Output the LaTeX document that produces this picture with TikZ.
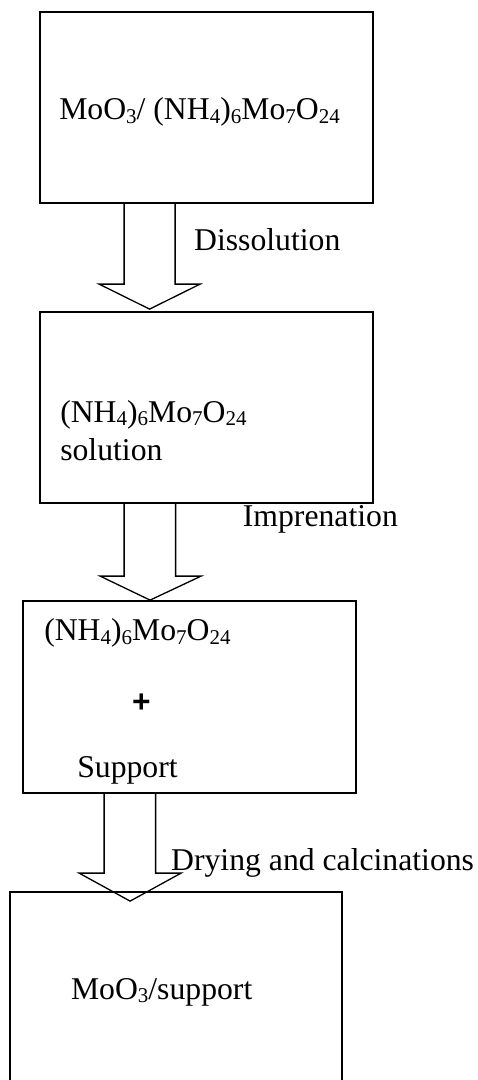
\documentclass[tikz,border=0pt]{standalone}
\usepackage{fontspec}
\setmainfont{Liberation Serif}
\newfontfamily\plusfont{Liberation Sans}
\usepackage{tikz}
\usetikzlibrary{calc, positioning}
\newcommand{\ix}[1]{\raisebox{-3.5pt}{\fontsize{21}{21}\selectfont #1}}

\begin{document}
\begin{tikzpicture}[x=1pt, y=-1pt, font=\fontsize{31.7}{38}\selectfont,
    stage/.style={draw, line width=1.8pt, minimum width=333pt, minimum height=191pt, inner sep=0pt},
    lbl/.style={anchor=base west, inner sep=0pt},
    blockarrow/.style={draw, line width=1.3pt, line join=miter}]
    \clip (0,0) rectangle (478,1080);

    \node[stage] (raw) at (206.5,107.5) {};
    \node[stage] (sol) at (206.5,407.5) {};
    \node[stage, minimum height=192pt] (mix) at (189.5,697) {};
    \node[stage, minimum width=332pt] (final) at (176,987.5) {};

    \node[lbl] (rawtxt) at ($(raw.north west)+(20,108.7)$) {MoO\ix{3}/ (NH\ix{4})\ix{6}Mo\ix{7}O\ix{24}};
    \node[lbl] (soltxt) at ($(sol.north west)+(21,111)$) {(NH\ix{4})\ix{6}Mo\ix{7}O\ix{24}};
    \node[lbl] (solword) at ($(soltxt.base west)+(0,38.7)$) {solution};
    \node[lbl] (mixtxt) at ($(mix.north west)+(22,40.7)$) {(NH\ix{4})\ix{6}Mo\ix{7}O\ix{24}};
    \node[inner sep=0pt, font=\plusfont\bfseries\fontsize{31.7}{38}\selectfont] (plus) at ($(mix.north west)+(119.2,102.7)$) {+};
    \node[lbl] (support) at ($(mix.north west)+(55,177)$) {Support};
    \node[lbl] (finaltxt) at ($(final.north west)+(61.7,108)$) {MoO\ix{3}/support};

    \draw[blockarrow] ($(raw.south west)+(85,0)$) |- ($(sol.north west)+(60,-27)$) -- ($(sol.north west)+(110.5,-2)$) -- ($(sol.north west)+(161,-27)$) -| ($(raw.south west)+(136,0)$);
    \draw[blockarrow] ($(sol.south west)+(85,0)$) |- ($(mix.north west)+(78,-24)$) -- ($(mix.north west)+(128,0)$) -- ($(mix.north west)+(179,-24)$) -| ($(sol.south west)+(136.5,0)$);
    \draw[blockarrow] ($(mix.south west)+(82,0)$) |- ($(final.north west)+(70,-18)$) -- ($(final.north west)+(121,10)$) -- ($(final.north west)+(172,-18)$) -| ($(mix.south west)+(133.5,0)$);

    \node[lbl] (dissolve) at (194,250.7) {Dissolution};
    \node[lbl] (impreg) at (242.7,526.7) {Imprenation};
    \node[lbl] (calcine) at (171,870.7) {Drying and calcinations};
\end{tikzpicture}
\end{document}
